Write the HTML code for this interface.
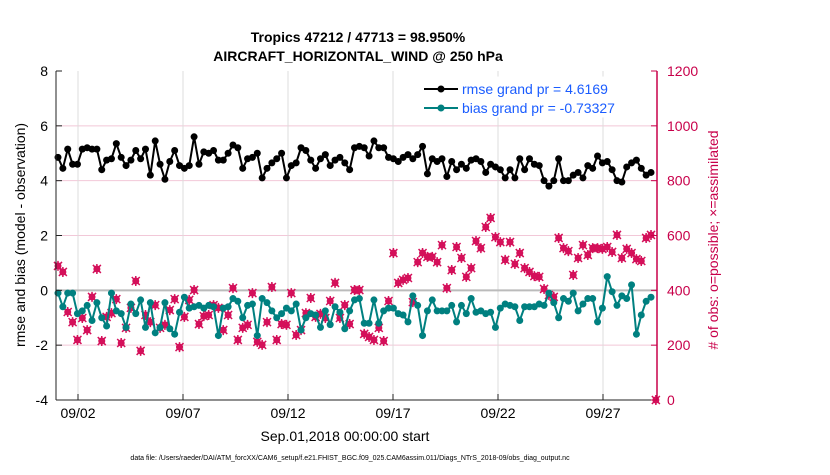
<!DOCTYPE html>
<html><head><meta charset="utf-8"><style>
body{margin:0;background:#fff;}
svg text{font-family:"Liberation Sans",sans-serif;}
</style></head><body>
<svg id="chart" width="830" height="470" xmlns="http://www.w3.org/2000/svg">
<rect width="830" height="470" fill="#fff"/>
<text x="358" y="42" text-anchor="middle" font-size="14" font-weight="bold">Tropics 47212 / 47713 = 98.950%</text>
<text x="358" y="61" text-anchor="middle" font-size="14" font-weight="bold">AIRCRAFT_HORIZONTAL_WIND @ 250 hPa</text>
<g id="grid"></g>
<g id="series"></g>
<g id="axes"></g>
<text transform="translate(25,235) rotate(-90)" text-anchor="middle" font-size="14">rmse and bias (model - observation)</text>
<text transform="translate(718,240) rotate(-90)" text-anchor="middle" font-size="14" fill="#c8004a"># of obs: o=possible; ×=assimilated</text>
<text x="345" y="441" text-anchor="middle" font-size="14">Sep.01,2018 00:00:00 start</text>
<text x="350" y="460" text-anchor="middle" font-size="7">data file: /Users/raeder/DAI/ATM_forcXX/CAM6_setup/f.e21.FHIST_BGC.f09_025.CAM6assim.011/Diags_NTrS_2018-09/obs_diag_output.nc</text>
<g>
<rect x="418" y="77" width="234" height="40" fill="#fff" stroke="#fff"/>
<line x1="424" y1="89" x2="458" y2="89" stroke="#000" stroke-width="2"/><circle cx="441" cy="89" r="3.5" fill="#000"/>
<text x="462" y="94" font-size="14" fill="#1a5cff">rmse grand pr = 4.6169</text>
<line x1="424" y1="108" x2="458" y2="108" stroke="#008080" stroke-width="2"/><circle cx="441" cy="108" r="3.5" fill="#008080"/>
<text x="462" y="113" font-size="14" fill="#1a5cff">bias grand pr = -0.73327</text>
</g>
</svg>
<script>
const rmseValues=[4.85,4.45,5.15,4.6,4.6,5.15,5.2,5.15,5.15,4.4,4.75,4.8,5.35,4.85,4.55,4.75,5.1,4.8,5.15,4.2,5.45,4.6,4.05,4.7,5.1,4.55,4.45,4.55,5.6,4.6,5.05,
5.0,5.1,4.75,4.75,5.0,5.3,5.2,4.45,4.8,4.85,5.0,4.1,4.45,4.65,4.8,5.0,4.1,4.55,4.65,5.2,5.1,4.75,4.45,4.8,4.95,4.55,4.75,4.85,4.65,4.4,5.2,
5.25,5.2,4.9,5.45,5.2,5.2,4.85,4.8,4.7,4.85,4.95,4.8,4.95,5.25,4.25,4.8,4.7,4.8,4.15,4.7,4.4,4.6,4.45,4.75,4.8,4.7,4.3,4.6,4.5,4.4,4.1,
4.4,4.1,4.8,4.4,4.8,4.6,4.55,4.0,3.8,4.0,4.8,4.0,4.0,4.2,4.3,4.1,4.55,4.45,4.9,4.65,4.7,4.4,4.0,3.95,4.5,4.65,4.75,4.45,4.2,4.3];
const biasValues=[-0.1,-0.6,-0.1,-0.1,-0.85,-0.75,-0.55,-1.1,-0.45,-1.0,-1.3,-0.1,-0.75,-0.85,-1.35,-0.5,-0.85,-0.35,-1.35,-0.45,-1.55,-1.35,-0.45,-1.4,-1.6,-0.8,-0.25,-0.65,-0.6,-0.55,-0.65,
-0.55,-0.6,-1.65,-0.65,-0.6,-0.3,-0.4,-1.0,-0.55,-0.5,-1.65,-0.3,-0.45,-0.75,-1.0,-0.85,-0.65,-0.75,-0.5,-1.45,-1.0,-0.85,-0.9,-1.35,-0.75,-1.25,-0.6,-0.8,-1.4,-0.75,-0.35,
-0.3,-1.2,-1.2,-0.35,-1.2,-0.75,-0.65,-0.65,-0.85,-0.9,-1.15,-0.2,-0.55,-1.65,-0.75,-0.35,-0.75,-0.75,-0.75,-0.55,-1.15,-0.55,-0.85,-0.3,-0.8,-0.75,-0.85,-0.8,-1.35,-0.65,-0.5,
-0.55,-0.6,-1.1,-0.6,-0.6,-0.6,-0.5,-0.55,-0.1,-0.45,-1.0,-0.3,-0.4,-0.1,-0.75,-0.5,-0.3,-0.3,-1.15,-0.65,0.5,-0.05,-0.55,-0.2,-0.3,0.2,-1.6,-0.9,-0.4,-0.25];
const obsValues=[489,467,321,284,219,299,255,376,478,215,303,317,368,208,263,336,434,179,310,284,346,263,274,328,368,193,303,365,401,277,306,
310,346,336,255,310,408,219,263,274,390,212,201,284,412,219,277,274,390,237,255,317,372,303,314,299,361,427,299,346,277,401,
401,241,230,219,263,215,361,536,427,438,445,357,503,536,522,522,503,565,408,474,558,518,449,481,580,554,631,664,594,576,511,
576,496,536,481,467,452,449,405,383,376,591,554,543,456,518,565,529,554,554,551,558,540,602,518,551,536,514,507,591,602,0];
const xTickLabels=["09/02","09/07","09/12","09/17","09/22","09/27"];
const xTickDays=[1,6,11,16,21,26];
const leftTicks=[8,6,4,2,0,-2,-4];
const rightTicks=[1200,1000,800,600,400,200,0];

const L=56,R=657,T=71,B=400;
const yL=v=>B-(v+4)/12*(B-T);
const yR=v=>B-v/1200*(B-T);
const xI=i=>58+i*(651-58)/122;
const xD=d=>78+(d-1)*21;
const NS="http://www.w3.org/2000/svg";
function mk(parent,tag,attrs){const e=document.createElementNS(NS,tag);for(const k in attrs)e.setAttribute(k,attrs[k]);document.getElementById(parent).appendChild(e);return e;}

leftTicks.forEach(v=>{if(v!==0&&v!==-4&&v!==8){const g=mk('grid','line',{x1:L,x2:R,y1:yL(v),y2:yL(v),stroke:'#f2c8d8','stroke-width':1});

}});
xTickDays.forEach(d=>{const g=mk('grid','line',{x1:xD(d),x2:xD(d),y1:T,y2:B,stroke:'#dcdcdc','stroke-width':1});

});
const z=mk('grid','line',{x1:L,x2:R,y1:yL(0),y2:yL(0),stroke:'#bbb','stroke-width':2});



obsValues.forEach((v,i)=>{const x=xI(i),y=yR(v);
const g=mk('series','g',{});


const c=document.createElementNS(NS,'circle');c.setAttribute('cx',x);c.setAttribute('cy',y);c.setAttribute('r',3.5);c.setAttribute('fill','#d4105a');g.appendChild(c);
const p=document.createElementNS(NS,'path');p.setAttribute('d',`M${x-4} ${y-4}L${x+4} ${y+4}M${x+4} ${y-4}L${x-4} ${y+4}M${x} ${y-5}V${y+5}`);p.setAttribute('stroke','#d4105a');p.setAttribute('stroke-width',1.5);g.appendChild(p);});

function series(vals,color,name){
const pl=mk('series','polyline',{points:vals.map((v,i)=>xI(i)+','+yL(v)).join(' '),fill:'none',stroke:color,'stroke-width':2});


vals.forEach((v,i)=>{const c=mk('series','circle',{cx:xI(i),cy:yL(v),r:3.5,fill:color});

});}
series(rmseValues,'#000','rmse');
series(biasValues,'#008080','bias');

const la=mk('axes','line',{x1:L,x2:L,y1:T,y2:B,stroke:'#222','stroke-width':1});


const ra=mk('axes','line',{x1:R,x2:R,y1:T,y2:B,stroke:'#c8004a','stroke-width':1.5});


const ba=mk('axes','line',{x1:L,x2:R,y1:B,y2:B,stroke:'#222','stroke-width':1});


leftTicks.forEach(v=>{mk('axes','line',{x1:L,x2:L+6,y1:yL(v),y2:yL(v),stroke:'#222'});
const t=mk('axes','text',{x:L-8,y:yL(v)+5,'text-anchor':'end','font-size':14});t.textContent=v;

});
rightTicks.forEach(v=>{mk('axes','line',{x1:R-6,x2:R,y1:yR(v),y2:yR(v),stroke:'#c8004a'});
const t=mk('axes','text',{x:R+10,y:yR(v)+5,'font-size':14,fill:'#c8004a'});t.textContent=v;

});
xTickDays.forEach((d,i)=>{mk('axes','line',{x1:xD(d),x2:xD(d),y1:B-6,y2:B,stroke:'#222'});
const t=mk('axes','text',{x:xD(d),y:418,'text-anchor':'middle','font-size':14});t.textContent=xTickLabels[i];

});
</script>
</body></html>
